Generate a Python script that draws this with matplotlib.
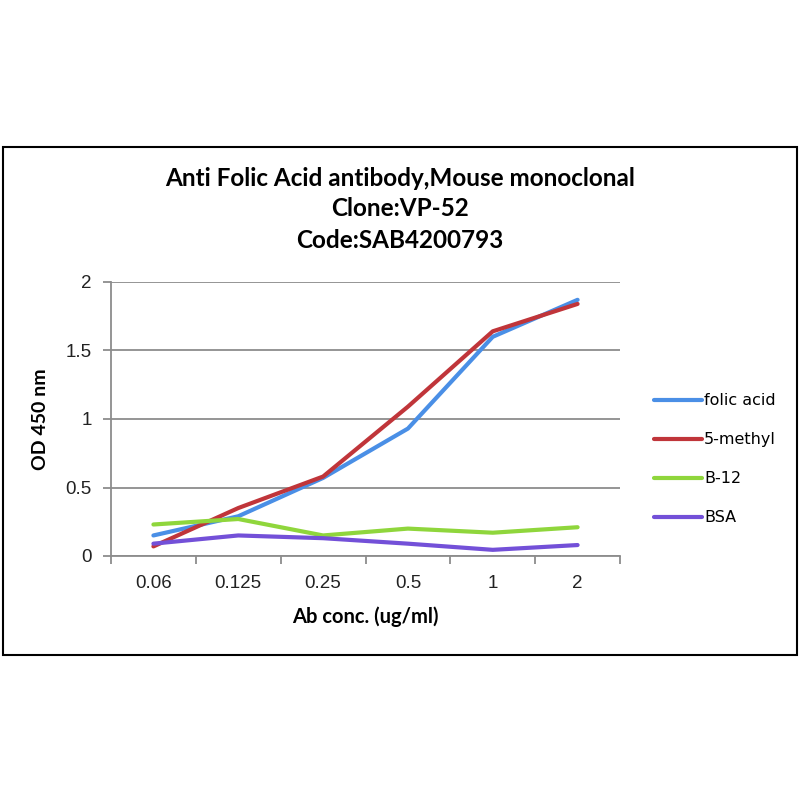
import matplotlib
matplotlib.use("Agg")
from matplotlib import pyplot as plt
from matplotlib.patches import Rectangle

concs = ["0.06", "0.125", "0.25", "0.5", "1", "2"]
folic_acid = [0.15, 0.29, 0.57, 0.93, 1.60, 1.87]
methyl5 = [0.07, 0.35, 0.58, 1.09, 1.64, 1.84]
b12 = [0.23, 0.27, 0.15, 0.20, 0.17, 0.21]
bsa = [0.09, 0.15, 0.13, 0.09, 0.045, 0.08]

series = [("folic acid", folic_acid, "#4a8fe6"),
          ("5-methyl", methyl5, "#c0353a"),
          ("B-12", b12, "#8fd63c"),
          ("BSA", bsa, "#7350d8")]

W, H = 800, 800
fig = plt.figure(figsize=(8, 8), dpi=100)

# outer chart frame
fig.patches.append(Rectangle((3 / W, 1 - 655 / H), 794 / W, 508 / H,
                             transform=fig.transFigure, fill=False,
                             edgecolor="black", linewidth=1.5))

ax = fig.add_axes([111 / W, 1 - 556 / H, 509 / W, 274 / H])
x = [i + 0.5 for i in range(len(concs))]
for name, vals, col in series:
    ax.plot(x, vals, color=col, linewidth=3, label=name, solid_capstyle="round")

ax.set_xlim(0, len(concs))
ax.set_ylim(0, 2)
ax.set_yticks([0, 0.5, 1, 1.5, 2])
ax.set_yticklabels(["0", "0.5", "1", "1.5", "2"])
ax.set_xticks(range(len(concs) + 1))
ax.set_xticklabels([])
ax.set_xticks(x, minor=True)
ax.set_xticklabels(concs, minor=True)
ax.tick_params(axis="x", which="minor", length=0, pad=14)
ax.tick_params(axis="x", which="major", length=6, color="#8c8c8c", width=1.3)
ax.tick_params(axis="y", length=6, color="#8c8c8c", width=1.3, pad=8)
for lab in ax.get_xticklabels(minor=True) + ax.get_yticklabels():
    lab.set_fontfamily(["Liberation Sans", "DejaVu Sans"])
    lab.set_fontsize(13.5)
    lab.set_color("#222222")

ax.yaxis.grid(True, color="#8c8c8c", linewidth=1.3)
ax.set_axisbelow(True)
for s in ["top", "right"]:
    ax.spines[s].set_visible(False)
for s in ["left", "bottom"]:
    ax.spines[s].set_color("#8c8c8c")
    ax.spines[s].set_linewidth(1.3)

ax.set_xlabel("Ab conc. (ug/ml)", fontsize=14.5, fontweight="bold",
              family=["Lato", "DejaVu Sans"], labelpad=10)
ax.set_ylabel("OD 450 nm", fontsize=14, fontweight="bold",
              family=["Lato", "DejaVu Sans"], labelpad=12)

title_font = dict(ha="center", va="center", fontsize=17.5, fontweight="bold",
                  family=["Lato", "DejaVu Sans"])
fig.text(0.5, 1 - 178 / H, "Anti Folic Acid antibody,Mouse monoclonal", **title_font)
fig.text(0.5, 1 - 209 / H, "Clone:VP-52", **title_font)
fig.text(0.5, 1 - 240 / H, "Code:SAB4200793", **title_font)

leg = fig.legend(loc="upper left", bbox_to_anchor=(640 / W, 1 - 379 / H),
                 frameon=False, handlelength=3.0, handletextpad=0.1,
                 labelspacing=1.5, prop={"family": "DejaVu Sans", "size": 11.5})

fig.savefig("out.png", dpi=100, facecolor="white")
